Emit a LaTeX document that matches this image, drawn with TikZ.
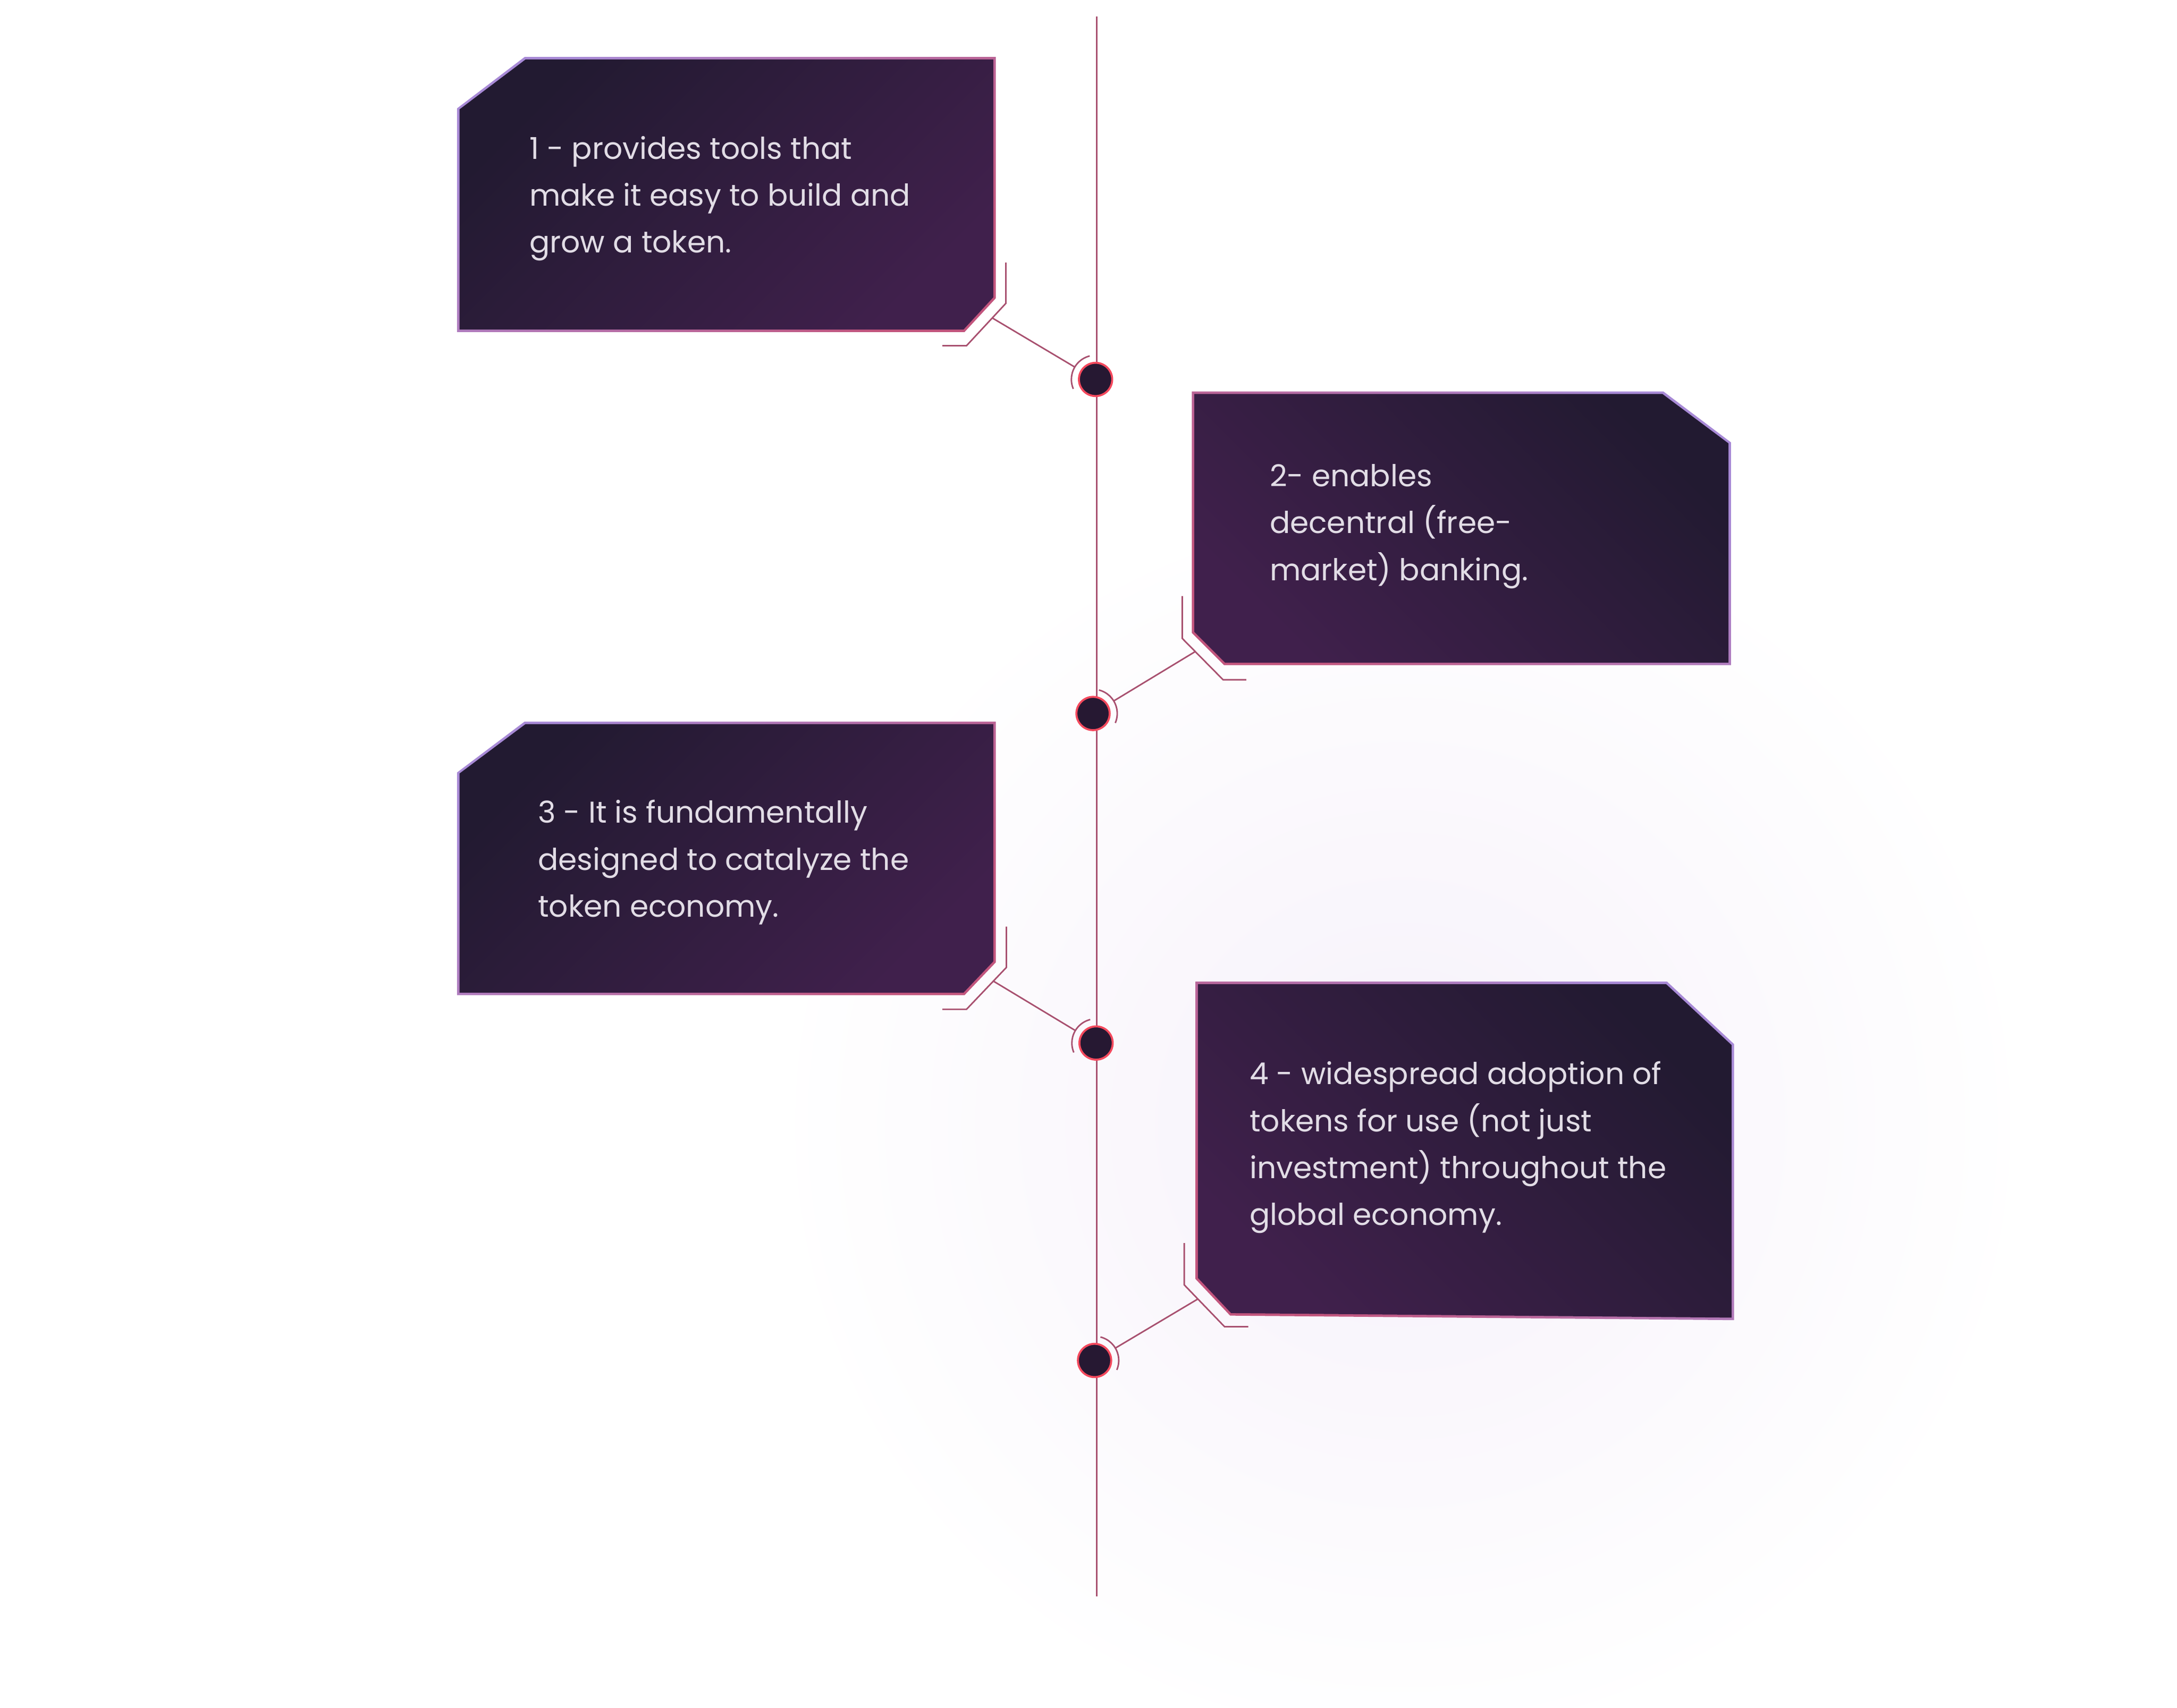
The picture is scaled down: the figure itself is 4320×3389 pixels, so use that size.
\documentclass[tikz,border=0pt]{standalone}
\usepackage{fontspec}
\setmainfont{Poppins}
\usepackage{tikz}
\usetikzlibrary{calc}
\definecolor{rosewire}{HTML}{A8506F}
\definecolor{dotfill}{HTML}{261832}
\definecolor{dotring}{HTML}{F4495D}
\definecolor{carddark}{HTML}{221A31}
\definecolor{cardlight}{HTML}{40204C}
\definecolor{edgelav}{HTML}{A88AD6}
\definecolor{edgemid}{HTML}{5A2F78}
\definecolor{edgepink}{HTML}{C2557D}
\definecolor{inkpale}{HTML}{E2DDE6}
\definecolor{glowlav}{HTML}{F6F1FA}
\tikzset{
  wire/.style={line width=0.03cm, rosewire},
  milestone/.style={circle, minimum size=0.66cm, inner sep=0pt, fill=dotfill, draw=dotring, line width=0.04cm, outer sep=0.15cm},
  cardtext/.style={anchor=base west, align=left, inner sep=0pt, text=inkpale, font=\fontsize{17pt}{26.5pt}\selectfont},
  edgeL/.style={top color=edgelav, middle color=edgemid, bottom color=edgepink, shading angle=45},
  edgeR/.style={top color=edgelav, middle color=edgemid, bottom color=edgepink, shading angle=-45},
  faceL/.style={top color=carddark, bottom color=cardlight, shading angle=45},
  faceR/.style={top color=carddark, bottom color=cardlight, shading angle=-45},
}

\begin{document}
\begin{tikzpicture}[x=0.01cm, y=-0.01cm]
  \useasboundingbox (0,0) rectangle (4320,3389);
  \fill[white] (0,0) rectangle (4320,3389);

  % Glow behind the lower cards
  \begin{scope}
    \clip (0,0) rectangle (4320,3389);
    \shade[inner color=glowlav, outer color=white] (2783,2232) circle[radius=1250];
  \end{scope}

  % Timeline
  \coordinate (top) at (2176,33);
  \coordinate (bottom) at (2176,3168);
  \draw[wire] (top) -- (bottom);

  % Cards
  \shade[edgeL] (1041,113) -- (1976,113) -- (1976,592) -- (1914,659) -- (907,659) -- (907,215) -- cycle;
  \shade[faceL] (1043,118) -- (1971,118) -- (1971,590) -- (1912,654) -- (912,654) -- (912,217) -- cycle;
  \shade[edgeR] (2365,777) -- (3301,777) -- (3435,878) -- (3435,1320) -- (2429,1320) -- (2365,1256) -- cycle;
  \shade[faceR] (2370,782) -- (3299,782) -- (3430,880) -- (3430,1315) -- (2431,1315) -- (2370,1254) -- cycle;
  \shade[edgeL] (1041,1432) -- (1976,1432) -- (1976,1910) -- (1914,1975) -- (907,1975) -- (907,1533) -- cycle;
  \shade[faceL] (1043,1437) -- (1971,1437) -- (1971,1908) -- (1912,1970) -- (912,1970) -- (912,1535) -- cycle;
  \shade[edgeR] (2372,1948) -- (3308,1948) -- (3441,2072) -- (3441,2620) -- (2441,2611) -- (2372,2538) -- cycle;
  \shade[faceR] (2377,1953) -- (3306,1953) -- (3436,2074) -- (3436,2615) -- (2443,2606) -- (2377,2536) -- cycle;

  % base anchor sits on the last line
  \node[cardtext] (s1) at (1050,502) {1 - provides tools that\\make it easy to build and\\grow a token.};
  \node[cardtext] (s2) at (2519,1152) {2- enables\\decentral (free-\\market) banking.};
  \node[cardtext] (s3) at (1067,1820) {3 - It is fundamentally\\designed to catalyze the\\token economy.};
  \node[cardtext] (s4) at (2479,2432) {4 - widespread adoption of\\tokens for use (not just\\investment) throughout the\\global economy.};

  % Brackets round the cut corners
  \draw[wire] (1996,521) -- (1996,602) -- (1918,686) -- (1870,686);
  \draw[wire] (2346,1183) -- (2346,1267) -- (2427,1349) -- (2473,1349);
  \draw[wire] (1997,1839) -- (1997,1920) -- (1918,2003) -- (1870,2003);
  \draw[wire] (2350,2467) -- (2350,2550) -- (2430,2633) -- (2477,2633);

  % Milestones
  \node[milestone] (d1) at (2174,753) {};
  \node[milestone] (d2) at (2169,1416) {};
  \node[milestone] (d3) at (2175,2070) {};
  \node[milestone] (d4) at (2172,2700) {};

  \draw[wire] ([shift={(157:48)}]d1.center) arc[start angle=157, end angle=256, radius=48];
  \draw[wire] ([shift={(-76:48)}]d2.center) arc[start angle=-76, end angle=23, radius=48];
  \draw[wire] ([shift={(157:48)}]d3.center) arc[start angle=157, end angle=256, radius=48];
  \draw[wire] ([shift={(-76:48)}]d4.center) arc[start angle=-76, end angle=23, radius=48];

  % Links from brackets to milestones
  \coordinate (k1) at (1969,631);
  \coordinate (k2) at (2372,1293);
  \coordinate (k3) at (1971,1947);
  \coordinate (k4) at (2377,2578);
  \draw[wire] (k1) -- (d1);
  \draw[wire] (k2) -- (d2);
  \draw[wire] (k3) -- (d3);
  \draw[wire] (k4) -- (d4);
\end{tikzpicture}
\end{document}
